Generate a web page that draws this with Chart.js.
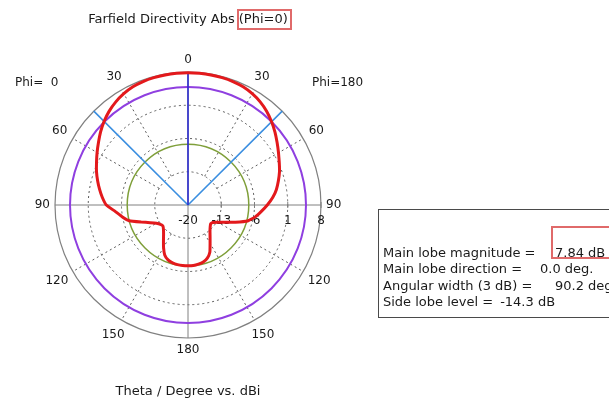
<!DOCTYPE html>
<html>
<head>
<meta charset="utf-8">
<script src="https://cdn.jsdelivr.net/npm/chart.js@4.4.1/dist/chart.umd.min.js"></script>
<style>
  html, body { margin: 0; padding: 0; background: #fff; }
  #wrap { position: relative; width: 609px; height: 403px; overflow: hidden; font-family: "DejaVu Sans", sans-serif; color: #1a1a1a; }
  #plot { position: absolute; left: 0; top: 0; }
  .txt { position: absolute; white-space: nowrap; line-height: 1; }
  .title { font-size: 13px; top: 12px; left: 0; width: 376px; text-align: center; }
  .caption { font-size: 13px; top: 384px; left: 0; width: 376px; text-align: center; }
  .phi { font-size: 12px; top: 76px; }
  .hl { position: absolute; border: 2px solid #e06a6a; box-sizing: border-box; }
  #info { position: absolute; left: 378px; top: 209px; width: 260px; height: 109px; border: 1px solid #4a4a4a; box-sizing: border-box; }
  .row { font-size: 13px; }
  .row .val { margin-left: 7px; }
</style>
</head>
<body>
<div id="wrap">
  <canvas id="plot" width="609" height="403"></canvas>
  <div class="txt title">Farfield Directivity Abs (Phi=0)</div>
  <div class="hl" style="left:237px; top:9px; width:55px; height:21px;"></div>
  <div class="txt phi" style="left:15px;">Phi=&nbsp;&nbsp;0</div>
  <div class="txt phi" style="left:312px;">Phi=180</div>
  <div class="txt caption">Theta / Degree vs. dBi</div>
  <div id="info"></div>
  <div id="rows"></div>
  <div class="hl" style="left:551px; top:226px; width:70px; height:33px;"></div>
</div>
<script>
// Polar directivity cut, 5 degree steps in theta
const theta = [0, 5, 10, 15, 20, 25, 30, 35, 40, 45, 50, 55, 60, 65, 70, 75, 80, 85, 90,
               95, 100, 105, 110, 115, 120, 125, 130, 135, 140, 145, 150, 155, 160, 165, 170, 175, 180];
// dBi, phi = 0 half-plane (drawn on the left)
const dirPhi0 = [7.84, 7.82, 7.8, 7.75, 7.65, 7.45, 7.05, 6.5, 5.8, 4.95, 4.0, 3.0, 2.1, 1.25, 0.5, -0.3, -1.1, -1.9, -2.8,
                 -4.6, -5.9, -7.2, -9.5, -11.2, -12.3, -12.9, -13.1, -12.7, -12.0, -11.0, -9.7, -8.4, -7.7, -7.4, -7.25, -7.2, -7.2];
// dBi, phi = 180 half-plane (drawn on the right)
const dirPhi180 = [7.84, 7.82, 7.8, 7.75, 7.65, 7.45, 7.05, 6.5, 5.75, 4.85, 3.9, 2.9, 2.0, 1.2, 0.5, -0.3, -1.1, -2.1, -3.3,
                   -4.5, -5.6, -7.0, -9.4, -11.4, -12.7, -13.6, -13.8, -13.4, -12.8, -11.9, -10.7, -9.1, -8.1, -7.6, -7.35, -7.2, -7.2];
// Axis ticks
const radialTicks = [-20, -13, -6, 1, 8];
const angleTicks = [0, 30, 60, 90, 120, 150, 180];
// Farfield summary
const mainLobeMagnitude = 7.84;   // dBi
const mainLobeDirection = 0.0;    // deg
const angularWidth3dB = 90.2;     // deg
const sideLobeLevel = -14.3;      // dB relative to main lobe
// strongest secondary lobe: the back lobe at theta = 180
const backLobeLevel = dirPhi0[dirPhi0.length - 1];

const infoRows = [
  ['Main lobe magnitude =', mainLobeMagnitude.toFixed(2) + ' dB', 555],
  ['Main lobe direction =', mainLobeDirection.toFixed(1) + ' deg.', 540],
  ['Angular width (3 dB) =', angularWidth3dB.toFixed(1) + ' deg', 555],
  ['Side lobe level =', sideLobeLevel.toFixed(1) + ' dB', null]
];
const rowsEl = document.getElementById('rows');
infoRows.forEach((r, i) => {
  const top = 246 + i * 16.3;
  if (r[2] === null) {
    rowsEl.insertAdjacentHTML('beforeend',
      `<div class="txt row" style="left:383px; top:${top}px;">${r[0]}<span class="val">${r[1]}</span></div>`);
  } else {
    rowsEl.insertAdjacentHTML('beforeend',
      `<div class="txt row" style="left:383px; top:${top}px;">${r[0]}</div>` +
      `<div class="txt row" style="left:${r[2]}px; top:${top}px;">${r[1]}</div>`);
  }
});

// Radar layout: index 0 at the top, clockwise. Right half = phi 180 (theta 0..180),
// left half = phi 0 (theta 175..5 going back up).
const labels = theta.concat(theta.slice(1, -1).reverse());
const values = dirPhi180.concat(dirPhi0.slice(1, -1).reverse());
const step = 360 / labels.length;

const polarFrame = {
  id: 'polarFrame',
  beforeDatasetsDraw(chart) {
    const s = chart.scales.r;
    const ctx = chart.ctx;
    const xc = s.xCenter, yc = s.yCenter;
    const R = s.getDistanceFromCenterForValue(8);
    const at = (deg, d) => {
      const a = deg * Math.PI / 180;
      return [xc + d * Math.sin(a), yc - d * Math.cos(a)];
    };
    ctx.save();

    // dotted inner rings
    ctx.strokeStyle = '#5a5a5a';
    ctx.lineWidth = 1;
    ctx.setLineDash([2, 3]);
    radialTicks.slice(1, -1).forEach(v => {
      ctx.beginPath();
      ctx.arc(xc, yc, s.getDistanceFromCenterForValue(v), 0, Math.PI * 2);
      ctx.stroke();
    });
    // dotted spokes every 30 degrees
    const r0 = s.getDistanceFromCenterForValue(radialTicks[1]);
    angleTicks.forEach(t => {
      if (t % 90 === 0) return;
      [t, 360 - t].forEach(a => {
        const p = at(a, r0), q = at(a, R);
        ctx.beginPath(); ctx.moveTo(p[0], p[1]); ctx.lineTo(q[0], q[1]); ctx.stroke();
      });
    });
    ctx.setLineDash([]);

    // outer ring and axes
    ctx.strokeStyle = '#808080';
    ctx.lineWidth = 1.2;
    ctx.beginPath(); ctx.arc(xc, yc, R, 0, Math.PI * 2); ctx.stroke();
    ctx.lineWidth = 1;
    ctx.beginPath();
    ctx.moveTo(xc - R, yc); ctx.lineTo(xc + R, yc);
    ctx.moveTo(xc, yc - R); ctx.lineTo(xc, yc + R);
    ctx.stroke();
    // small ticks on the horizontal axis
    ctx.beginPath();
    radialTicks.slice(1).forEach(v => {
      const x = xc + s.getDistanceFromCenterForValue(v);
      ctx.moveTo(x, yc - 3); ctx.lineTo(x, yc + 3);
    });
    ctx.stroke();

    // side lobe ring
    ctx.strokeStyle = '#7f9f3a';
    ctx.lineWidth = 1.5;
    ctx.beginPath();
    ctx.arc(xc, yc, s.getDistanceFromCenterForValue(backLobeLevel), 0, Math.PI * 2);
    ctx.stroke();
    // -3 dB ring
    ctx.strokeStyle = '#8f3fe0';
    ctx.lineWidth = 2;
    ctx.beginPath();
    ctx.arc(xc, yc, s.getDistanceFromCenterForValue(mainLobeMagnitude - 3), 0, Math.PI * 2);
    ctx.stroke();

    // 3 dB beam edges
    ctx.strokeStyle = '#3a8ee0';
    ctx.lineWidth = 1.6;
    [mainLobeDirection - angularWidth3dB / 2, mainLobeDirection + angularWidth3dB / 2].forEach(a => {
      const q = at(a, R);
      ctx.beginPath(); ctx.moveTo(xc, yc); ctx.lineTo(q[0], q[1]); ctx.stroke();
    });
    // main lobe direction
    ctx.strokeStyle = '#2b2bd0';
    ctx.lineWidth = 1.6;
    const m = at(mainLobeDirection, R);
    ctx.beginPath(); ctx.moveTo(xc, yc); ctx.lineTo(m[0], m[1]); ctx.stroke();

    // angle labels
    ctx.fillStyle = '#1a1a1a';
    ctx.font = '12px "DejaVu Sans", sans-serif';
    ctx.textAlign = 'center';
    ctx.textBaseline = 'middle';
    angleTicks.forEach(t => {
      const sides = (t === 0 || t === 180) ? [t] : [t, 360 - t];
      sides.forEach(a => {
        const txt = String(t);
        const w = ctx.measureText(txt).width;
        const rad = a * Math.PI / 180;
        const d = R + 5 + Math.abs(Math.sin(rad)) * w / 2 + Math.abs(Math.cos(rad)) * 7;
        const p = s.getPointPosition(Math.round(a / step), d);
        ctx.fillText(txt, p.x, p.y);
      });
    });
    // radial tick labels along the horizontal axis
    radialTicks.forEach(v => {
      ctx.fillText(String(v), xc + s.getDistanceFromCenterForValue(v), yc + 16);
    });
    ctx.restore();
  }
};

new Chart(document.getElementById('plot'), {
  type: 'radar',
  data: {
    labels: labels,
    datasets: [{
      label: 'Directivity',
      data: values,
      borderColor: '#e3191c',
      borderWidth: 3,
      pointRadius: 0,
      fill: false,
      tension: 0.1
    }]
  },
  options: {
    responsive: false,
    animation: false,
    layout: { padding: { left: 55, top: 72, right: 288, bottom: 65 } },
    plugins: { legend: { display: false }, tooltip: { enabled: false } },
    scales: {
      r: {
        min: -20,
        max: 8,
        ticks: { display: false, stepSize: 7 },
        grid: { display: false },
        angleLines: { display: false },
        pointLabels: { display: false }
      }
    }
  },
  plugins: [polarFrame]
});
</script>
</body>
</html>
